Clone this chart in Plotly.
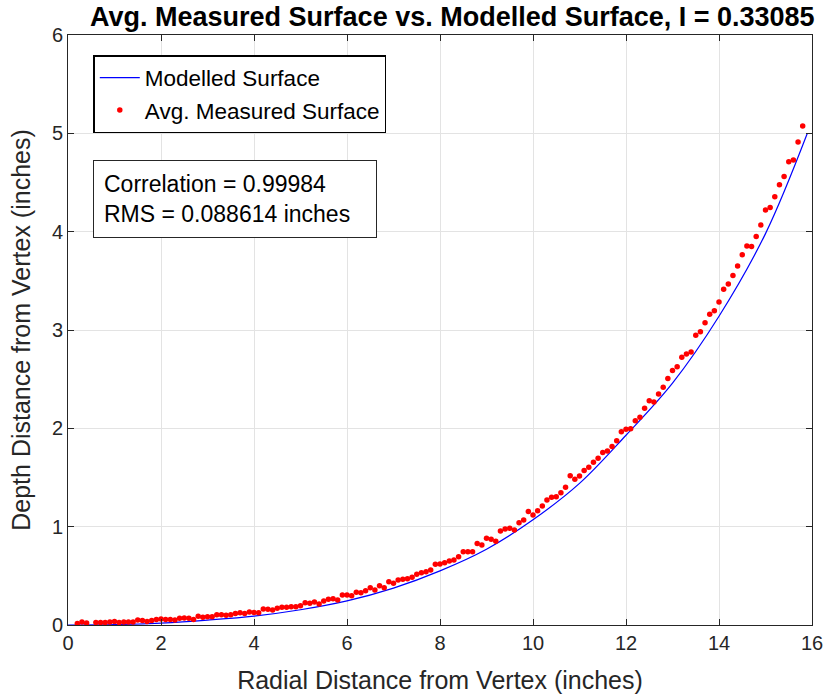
import plotly.graph_objects as go

# Modelled surface
model_x = [0, 1, 2, 3, 4, 5, 6, 7, 8, 9, 10, 11, 12, 13, 14, 15, 15.9]
model_y = [0, 0.004, 0.02, 0.05, 0.09, 0.155, 0.245, 0.375, 0.55, 0.77, 1.07,
           1.44, 1.93, 2.46, 3.14, 3.98, 5.0]

# Averaged measured surface
meas_x = [0.2, 0.3, 0.4, 0.6, 0.7, 0.8, 0.9, 1.0, 1.1, 1.2, 1.3, 1.4, 1.5, 1.6, 1.7, 1.8, 1.9,
          2.0, 2.1, 2.2, 2.3, 2.4, 2.5, 2.6, 2.7, 2.8, 2.9, 3.0, 3.1, 3.2, 3.3, 3.4, 3.5, 3.6, 3.7,
          3.8, 3.9, 4.0, 4.1, 4.2, 4.3, 4.4, 4.5, 4.6, 4.7, 4.8, 4.9, 5.0, 5.1, 5.2, 5.3, 5.4, 5.5,
          5.6, 5.7, 5.8, 5.9, 6.0, 6.1, 6.2, 6.3, 6.4, 6.5, 6.6, 6.7, 6.8, 6.9, 7.0, 7.1, 7.2, 7.3,
          7.4, 7.5, 7.6, 7.7, 7.8, 7.9, 8.0, 8.1, 8.2, 8.3, 8.4, 8.5, 8.6, 8.7, 8.8, 8.9, 9.0, 9.1,
          9.2, 9.3, 9.4, 9.5, 9.6, 9.7, 9.8, 9.9, 10.0, 10.1, 10.2, 10.3, 10.4, 10.5, 10.6, 10.7,
          10.8, 10.9, 11.0, 11.1, 11.2, 11.3, 11.4, 11.5, 11.6, 11.7, 11.8, 11.9, 12.0, 12.1, 12.2,
          12.3, 12.4, 12.5, 12.6, 12.7, 12.8, 12.9, 13.0, 13.1, 13.2, 13.3, 13.4, 13.5, 13.6, 13.7,
          13.8, 13.9, 14.0, 14.1, 14.2, 14.3, 14.4, 14.5, 14.6, 14.7, 14.8, 14.9, 15.0, 15.1, 15.2,
          15.3, 15.4, 15.5, 15.6, 15.7, 15.8]
meas_y = [0.015, 0.03, 0.02, 0.025, 0.025, 0.025, 0.03, 0.035, 0.025, 0.03, 0.03, 0.03, 0.05,
          0.045, 0.035, 0.045, 0.057, 0.06, 0.057, 0.057, 0.05, 0.068, 0.072, 0.068, 0.057, 0.09,
          0.08, 0.085, 0.085, 0.105, 0.105, 0.10, 0.105, 0.118, 0.125, 0.118, 0.132, 0.128, 0.125,
          0.163, 0.16, 0.153, 0.17, 0.18, 0.18, 0.186, 0.186, 0.197, 0.227, 0.22, 0.234, 0.214,
          0.244, 0.261, 0.268, 0.254, 0.305, 0.305, 0.298, 0.332, 0.329, 0.349, 0.38, 0.356, 0.40,
          0.38, 0.44, 0.424, 0.458, 0.464, 0.471, 0.485, 0.515, 0.532, 0.542, 0.559, 0.617, 0.62,
          0.634, 0.651, 0.661, 0.695, 0.746, 0.744, 0.744, 0.83, 0.814, 0.881, 0.871, 0.851, 0.956,
          0.976, 0.983, 0.966, 1.041, 1.068, 1.153, 1.119, 1.163, 1.21, 1.27, 1.30, 1.305, 1.346,
          1.40, 1.519, 1.481, 1.515, 1.57, 1.603, 1.654, 1.695, 1.753, 1.77, 1.814, 1.875, 1.966,
          1.99, 1.997, 2.078, 2.112, 2.203, 2.281, 2.268, 2.349, 2.417, 2.508, 2.587, 2.627, 2.722,
          2.756, 2.776, 2.946, 2.983, 3.075, 3.159, 3.197, 3.285, 3.414, 3.468, 3.553, 3.652,
          3.766, 3.855, 3.848, 3.95, 4.068, 4.22, 4.247, 4.356, 4.478, 4.56, 4.71, 4.729, 4.912,
          5.075]

x_ticks = [0, 2, 4, 6, 8, 10, 12, 14, 16]
y_ticks = [0, 1, 2, 3, 4, 5, 6]

title_text = "<b>Avg. Measured Surface vs. Modelled Surface, I = 0.33085</b>"
stats_text = "Correlation = 0.99984<br>RMS = 0.088614 inches"

FONT = "Liberation Sans, Arial, Helvetica, sans-serif"
AX = "#262626"

fig = go.Figure()
fig.add_trace(go.Scatter(x=model_x, y=model_y, mode="lines", name="Modelled Surface",
                         line=dict(color="#0000ff", width=1.2, shape="spline")))
fig.add_trace(go.Scatter(x=meas_x, y=meas_y, mode="markers", name="Avg. Measured Surface",
                         marker=dict(color="#ff0000", size=5.5, line=dict(width=0))))

axis_common = dict(showgrid=True, gridcolor="#e3e3e3", gridwidth=1, zeroline=False,
                   showline=True, linecolor=AX, linewidth=1, mirror="ticks",
                   ticks="inside", ticklen=6, tickcolor=AX, tickwidth=1, automargin=False,
                   tickfont=dict(family=FONT, size=20, color=AX))

fig.update_xaxes(range=[0, 16], tickvals=x_ticks, **axis_common,
                 title=dict(text="Radial Distance from Vertex (inches)",
                            font=dict(family=FONT, size=25, color=AX), standoff=18))
fig.update_yaxes(range=[0, 6], tickvals=y_ticks, **axis_common,
                 title=dict(text="Depth Distance from Vertex (inches)",
                            font=dict(family=FONT, size=25, color=AX), standoff=14))

fig.add_annotation(xref="paper", yref="paper", x=0.034, y=0.788, xanchor="left", yanchor="top",
                   text=stats_text, showarrow=False, align="left", width=262,
                   font=dict(family=FONT, size=23, color="#000000"),
                   bordercolor="#262626", borderwidth=1, borderpad=10, bgcolor="white")

fig.update_layout(
    width=830, height=700,
    margin=dict(l=68, r=18, t=35, b=75),
    paper_bgcolor="white", plot_bgcolor="white",
    title=dict(text=title_text, x=0.545, xanchor="center", y=0.976, yanchor="middle",
               font=dict(family=FONT, size=27, color="#000000")),
    legend=dict(x=0.034, y=0.966, xanchor="left", yanchor="top",
                bordercolor="#000000", borderwidth=1.5, bgcolor="white",
                font=dict(family=FONT, size=22.5, color="#000000"),
                tracegroupgap=0, itemwidth=40),
    showlegend=True,
)

fig.write_html("out.html", post_script="document.body.style.margin='0';",
               config={"displayModeBar": False})
